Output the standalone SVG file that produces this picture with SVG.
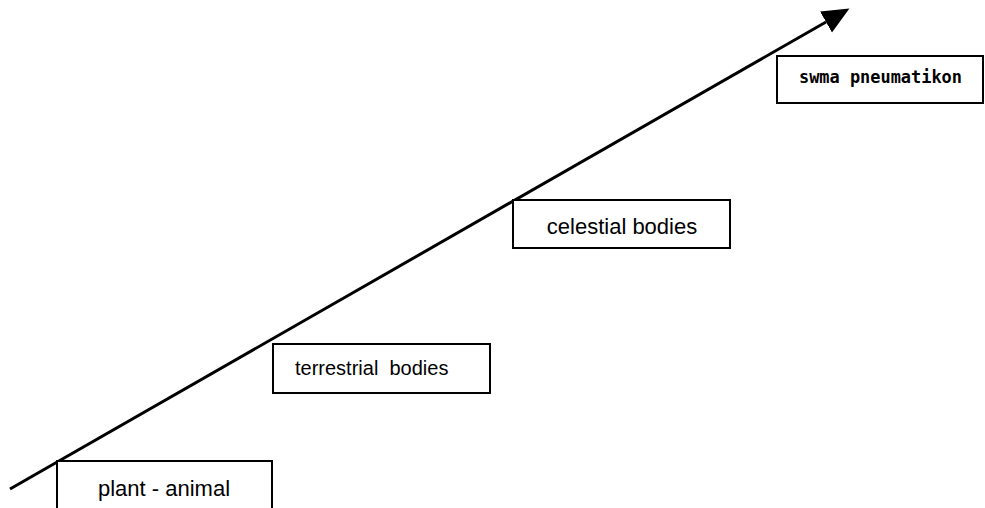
<svg xmlns="http://www.w3.org/2000/svg" width="985" height="508" viewBox="0 0 985 508">
<style>
.box{fill:#fff;stroke:#000;stroke-width:2}
.lbl{font-family:"Liberation Sans",Arial,sans-serif;font-size:22px;fill:#000}
.mono{font-family:"DejaVu Sans Mono","Liberation Mono",monospace;font-size:17px;font-weight:bold;fill:#000}
</style>
<defs>
<marker id="arr" markerUnits="userSpaceOnUse" markerWidth="30" markerHeight="26" refX="0" refY="12" orient="auto" viewBox="0 0 30 24">
<path d="M0,0 L27,12 L0,24 Z" fill="#000"/>
</marker>
</defs>
<rect width="985" height="508" fill="#fff"/>
<g id="connectors">
<line x1="10" y1="489" x2="826" y2="22" stroke="#000" stroke-width="3" marker-end="url(#arr)"/>
</g>
<g id="node-plant-animal">
<rect class="box" x="57" y="461" width="215" height="60"/>
<text class="lbl" x="164" y="496" text-anchor="middle">plant - animal</text>
</g>
<g id="node-terrestrial">
<rect class="box" x="273" y="344" width="217" height="49"/>
<text class="lbl" x="295" y="375" style="font-size:20px" xml:space="preserve">terrestrial  bodies</text>
</g>
<g id="node-celestial">
<rect class="box" x="513" y="200" width="217" height="48"/>
<text class="lbl" x="622" y="234" text-anchor="middle">celestial bodies</text>
</g>
<g id="node-swma">
<rect class="box" x="777" y="56" width="206" height="47"/>
<text class="mono" x="799" y="83" textLength="163" lengthAdjust="spacingAndGlyphs">swma pneumatikon</text>
</g>
</svg>
